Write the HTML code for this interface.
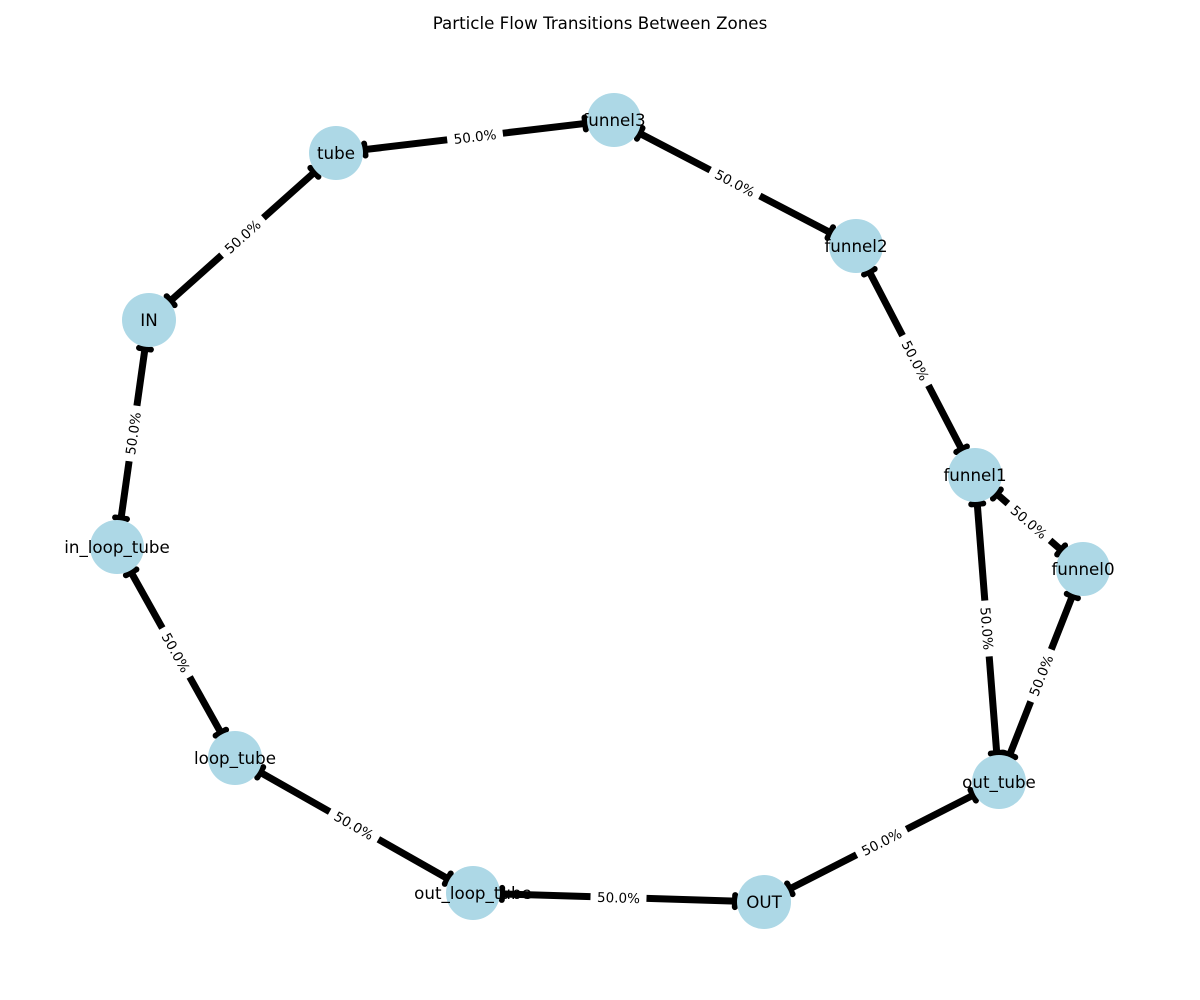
<!DOCTYPE html>
<html><head><meta charset="utf-8"><style>
body{margin:0;background:#fff;}
svg{display:block;font-family:"DejaVu Sans","Liberation Sans",sans-serif;}
</style></head><body>
<svg id="chart" width="1200" height="1000">
<rect width="1200" height="1000" fill="#fff"/>
<text x="600" y="29" text-anchor="middle" font-size="16.7">Particle Flow Transitions Between Zones</text>
<g id="edges"></g><g id="nodes"></g><g id="labels"></g>
</svg>
<script>
const nodeNames=["tube","funnel3","funnel2","funnel1","funnel0","out_tube","OUT","out_loop_tube","loop_tube","in_loop_tube","IN"];
const nodeX=[336,614,856,975,1083,999,764,473,235,117,149];
const nodeY=[153,120,246,475,569,782,902,893,758,547,320];
const edgeFrom=["tube","funnel3","funnel2","funnel1","funnel1","funnel0","out_tube","OUT","out_loop_tube","loop_tube","in_loop_tube","IN"];
const edgeTo=["funnel3","funnel2","funnel1","funnel0","out_tube","out_tube","OUT","out_loop_tube","loop_tube","in_loop_tube","IN","tube"];
const edgeLabels=["50.0%","50.0%","50.0%","50.0%","50.0%","50.0%","50.0%","50.0%","50.0%","50.0%","50.0%","50.0%"];
const NS="http://www.w3.org/2000/svg";
const R=27;
const eg=document.getElementById('edges'),ng=document.getElementById('nodes'),lg=document.getElementById('labels');
function mk(t,a,p){const e=document.createElementNS(NS,t);for(const k in a)e.setAttribute(k,a[k]);p.appendChild(e);return e;}
edgeFrom.forEach((f,i)=>{
 const a=nodeNames.indexOf(f),b=nodeNames.indexOf(edgeTo[i]);
 const x1=nodeX[a],y1=nodeY[a],x2=nodeX[b],y2=nodeY[b];
 const dx=x2-x1,dy=y2-y1,L=Math.hypot(dx,dy),ux=dx/L,uy=dy/L,px=-uy,py=ux;
 const sx=x1+ux*(R+2),sy=y1+uy*(R+2),ex=x2-ux*(R+2),ey=y2-uy*(R+2);
 const g=mk('g',{},eg);
 
 
 mk('line',{x1:sx,y1:sy,x2:ex,y2:ey,stroke:'#000','stroke-width':7},g);
 [[sx,sy],[ex,ey]].forEach(([cx,cy])=>{
  mk('line',{x1:cx+px*6,y1:cy+py*6,x2:cx-px*6,y2:cy-py*6,stroke:'#000','stroke-width':6,'stroke-linecap':'round'},g);
 });
 const mx=(x1+x2)/2,my=(y1+y2)/2;
 let ang=Math.atan2(dy,dx)*180/Math.PI;
 if(ang>90)ang-=180;if(ang<-90)ang+=180;
 const lgp=mk('g',{transform:`translate(${mx},${my}) rotate(${ang})`},lg);
 
 
 mk('rect',{x:-28,y:-9,width:56,height:18,fill:'#fff'},lgp);
 const t=mk('text',{x:0,y:5,'text-anchor':'middle','font-size':13.5},lgp);t.textContent=edgeLabels[i];
});
nodeNames.forEach((n,i)=>{
 const g=mk('g',{},ng);
 
 
 mk('circle',{cx:nodeX[i],cy:nodeY[i],r:R,fill:'#add8e6'},g);
 const t=mk('text',{x:nodeX[i],y:nodeY[i]+6,'text-anchor':'middle','font-size':16.7},g);t.textContent=n;
});
</script>
</body></html>
